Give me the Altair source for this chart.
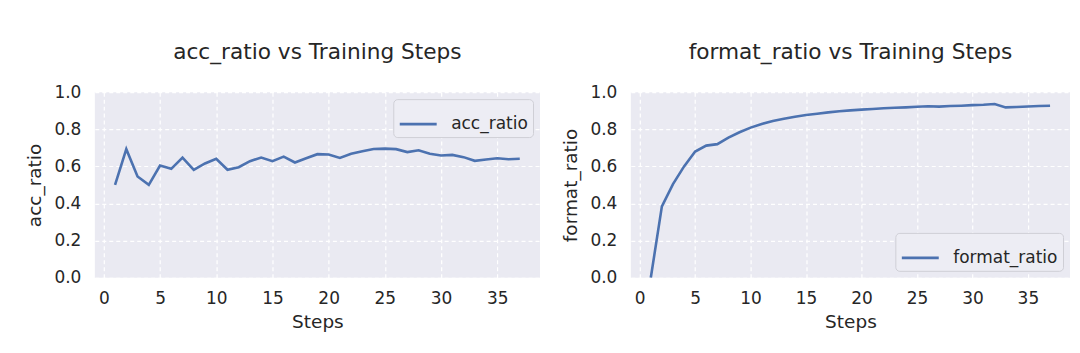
import altair as alt
import pandas as pd

steps = [1, 2, 3, 4, 5, 6, 7, 8, 9, 10, 11, 12, 13, 14, 15, 16, 17, 18, 19, 20,
         21, 22, 23, 24, 25, 26, 27, 28, 29, 30, 31, 32, 33, 34, 35, 36, 37]

acc_ratio = [0.501, 0.693, 0.546, 0.501, 0.605, 0.587, 0.648, 0.582, 0.616, 0.641,
             0.582, 0.596, 0.628, 0.648, 0.628, 0.653, 0.621, 0.644, 0.666, 0.664,
             0.646, 0.668, 0.682, 0.694, 0.696, 0.693, 0.677, 0.687, 0.668, 0.659,
             0.662, 0.650, 0.630, 0.637, 0.644, 0.639, 0.641]

format_ratio = [0.0, 0.385, 0.505, 0.600, 0.680, 0.712, 0.720, 0.755, 0.784, 0.809,
                0.829, 0.845, 0.857, 0.868, 0.877, 0.884, 0.891, 0.897, 0.902, 0.906,
                0.909, 0.913, 0.916, 0.918, 0.921, 0.924, 0.922, 0.925, 0.927, 0.930,
                0.932, 0.936, 0.918, 0.920, 0.923, 0.925, 0.927]

FONT = "DejaVu Sans"
TEXT = "#262626"
LINE = "#4C72B0"
BG = "#EAEAF2"


def panel(values, name, width, legend_orient):
    df = pd.DataFrame({"Steps": steps, "value": values, "series": [name] * len(steps)})
    return (
        alt.Chart(df, title=alt.TitleParams(f"{name} vs Training Steps"))
        .mark_line(strokeWidth=2.6, clip=True)
        .encode(
            x=alt.X("Steps:Q", scale=alt.Scale(domain=[-0.8, 38.8], nice=False, zero=False),
                    axis=alt.Axis(values=[0, 5, 10, 15, 20, 25, 30, 35], title="Steps")),
            y=alt.Y("value:Q", scale=alt.Scale(domain=[0, 1], nice=False),
                    axis=alt.Axis(values=[0, 0.2, 0.4, 0.6, 0.8, 1.0], format=".1f", title=name)),
            color=alt.Color("series:N", scale=alt.Scale(range=[LINE]),
                            legend=alt.Legend(title=None, orient=legend_orient)),
        )
        .properties(width=width, height=186)
    )


left = panel(acc_ratio, "acc_ratio", 446, "top-right")
right = panel(format_ratio, "format_ratio", 440, "bottom-right")

chart = (
    alt.hconcat(left, right, spacing=91, bounds="flush")
    .resolve_scale(color="independent")
    .properties(padding={"left": 25, "top": 41, "right": 10, "bottom": 18})
    .configure(background="white", font=FONT)
    .configure_view(fill=BG, stroke=None)
    .configure_axis(
        domain=False, ticks=False, grid=True, gridColor="white", gridDash=[4, 3],
        gridWidth=1.2, labelFont=FONT, labelFontSize=17, labelColor=TEXT,
        titleFont=FONT, titleFontSize=18.5, titleFontWeight="normal", titleColor=TEXT,
    )
    .configure_axisX(labelPadding=13, titlePadding=6)
    .configure_axisY(labelPadding=14, titlePadding=9)
    .configure_title(font=FONT, fontSize=21.7, fontWeight="normal", color=TEXT,
                     anchor="middle", frame="group", offset=20)
    .configure_legend(
        symbolType="stroke", symbolSize=1369, symbolStrokeWidth=2.6,
        labelFont=FONT, labelFontSize=17, labelColor=TEXT, labelOffset=13,
        fillColor="#EDEDF4", strokeColor="#CFCFD6", cornerRadius=4,
        padding=5, offset=7,
    )
)

chart.save("out.html", embed_options={"renderer": "svg", "actions": False})
